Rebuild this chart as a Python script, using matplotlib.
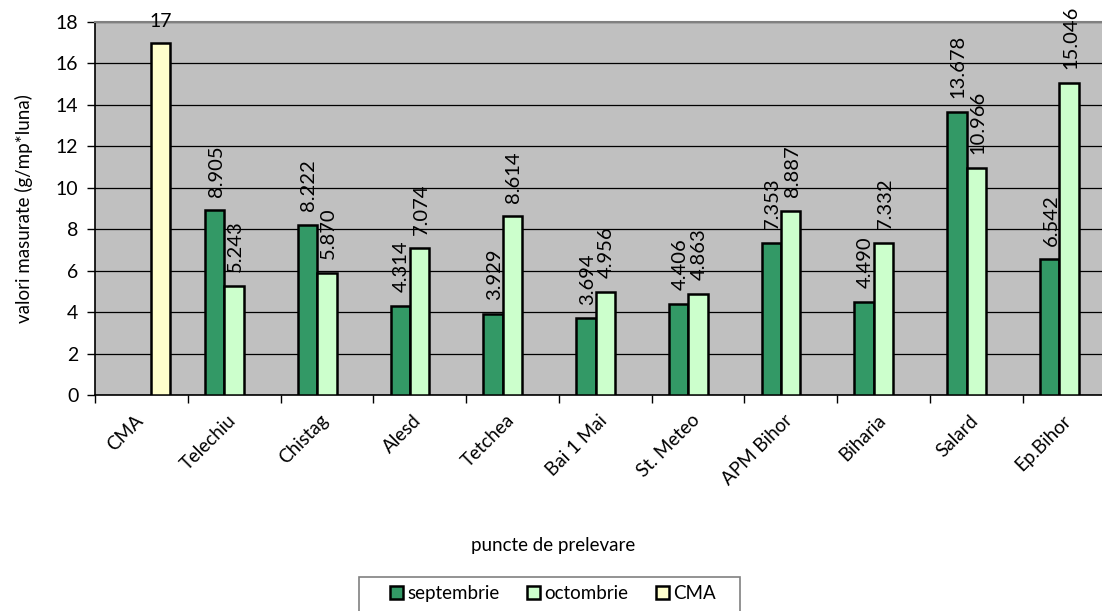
import matplotlib
matplotlib.use("Agg")
import matplotlib.pyplot as plt
from matplotlib.patches import Rectangle
import numpy as np

categories = ["CMA", "Telechiu", "Chistag", "Alesd", "Tetchea", "Bai 1 Mai",
              "St. Meteo", "APM Bihor", "Biharia", "Salard", "Ep.Bihor"]
septembrie = [None, 8.905, 8.222, 4.314, 3.929, 3.694, 4.406, 7.353, 4.490, 13.678, 6.542]
octombrie = [None, 5.243, 5.870, 7.074, 8.614, 4.956, 4.863, 8.887, 7.332, 10.966, 15.046]
cma = [17, None, None, None, None, None, None, None, None, None, None]
yticks = [0, 2, 4, 6, 8, 10, 12, 14, 16, 18]

plt.rcParams['font.family'] = ['Lato', 'DejaVu Sans']

W, H = 1102, 611
fig = plt.figure(figsize=(W / 100, H / 100), dpi=100)
ax = fig.add_axes([95 / W, 1 - 395 / H, (1115.5 - 95) / W, (395 - 22) / H])
ax.set_facecolor('#C0C0C0')

bw = 0.209
series = [
    (septembrie, -bw, '#339966', 'septembrie', 'v'),
    (octombrie, 0.0, '#CCFFCC', 'octombrie', 'v'),
    (cma, bw, '#FFFFCC', 'CMA', 'h'),
]
x = np.arange(len(categories))
handles = []
for vals, off, col, name, orient in series:
    xs = [x[i] + off for i, v in enumerate(vals) if v is not None]
    hs = [v for v in vals if v is not None]
    bars = ax.bar(xs, hs, width=bw, color=col, edgecolor='black', linewidth=1.8,
                  zorder=3, label=name)
    handles.append(bars)
    for xi, v in zip(xs, hs):
        if orient == 'v':
            ax.annotate(f"{v:.3f}", (xi, v), xytext=(1, 10), textcoords='offset points',
                        rotation=90, ha='center', va='bottom', fontsize=14.5,
                        annotation_clip=False)
        else:
            ax.annotate(f"{v:g}", (xi, v), xytext=(0, 9), textcoords='offset points',
                        ha='center', va='bottom', fontsize=14, annotation_clip=False)

ax.set_xlim(-0.5, len(categories) - 0.5)
ax.set_ylim(0, 18)
ax.set_yticks(yticks)
ax.set_yticklabels([str(t) for t in yticks], fontsize=14)
ax.yaxis.grid(True, color='black', linewidth=0.9, zorder=1)
ax.set_axisbelow(True)

ax.set_xticks(np.arange(len(categories) + 1) - 0.5, minor=False)
ax.set_xticklabels([])
ax.set_xticks(x - 0.075, minor=True)
ax.set_xticklabels(categories, minor=True, rotation=45, ha='right', va='top',
                   rotation_mode='anchor', fontsize=13.5)
ax.tick_params(axis='x', which='minor', length=0, pad=12)
ax.tick_params(axis='x', which='major', length=6, width=1, color='black')
ax.tick_params(axis='y', length=6, width=1, color='black', pad=6)

for s in ['top', 'right']:
    ax.spines[s].set_color('#808080')
    ax.spines[s].set_linewidth(1.5)
for s in ['left', 'bottom']:
    ax.spines[s].set_color('black')
    ax.spines[s].set_linewidth(1.2)

ax.set_ylabel("valori masurate (g/mp*luna)", fontsize=13.5, labelpad=16)
fig.text(553 / W, 1 - 545 / H, "puncte de prelevare", ha='center', va='center', fontsize=13.5)

fig.patches.append(Rectangle((359 / W, -0.05), (740 - 359) / W, 1 - 577 / H + 0.05,
                             transform=fig.transFigure, facecolor='white',
                             edgecolor='#808080', linewidth=1.2, zorder=0))
leg = fig.legend(handles=handles, loc='upper center', bbox_to_anchor=(553 / W, 1 - 581 / H),
                 ncol=3, fontsize=13.5, frameon=False, borderaxespad=0,
                 handlelength=0.7, handleheight=0.7, handletextpad=0.2, columnspacing=1.5,
                 borderpad=0.2)

fig.savefig("out.png", dpi=100)
